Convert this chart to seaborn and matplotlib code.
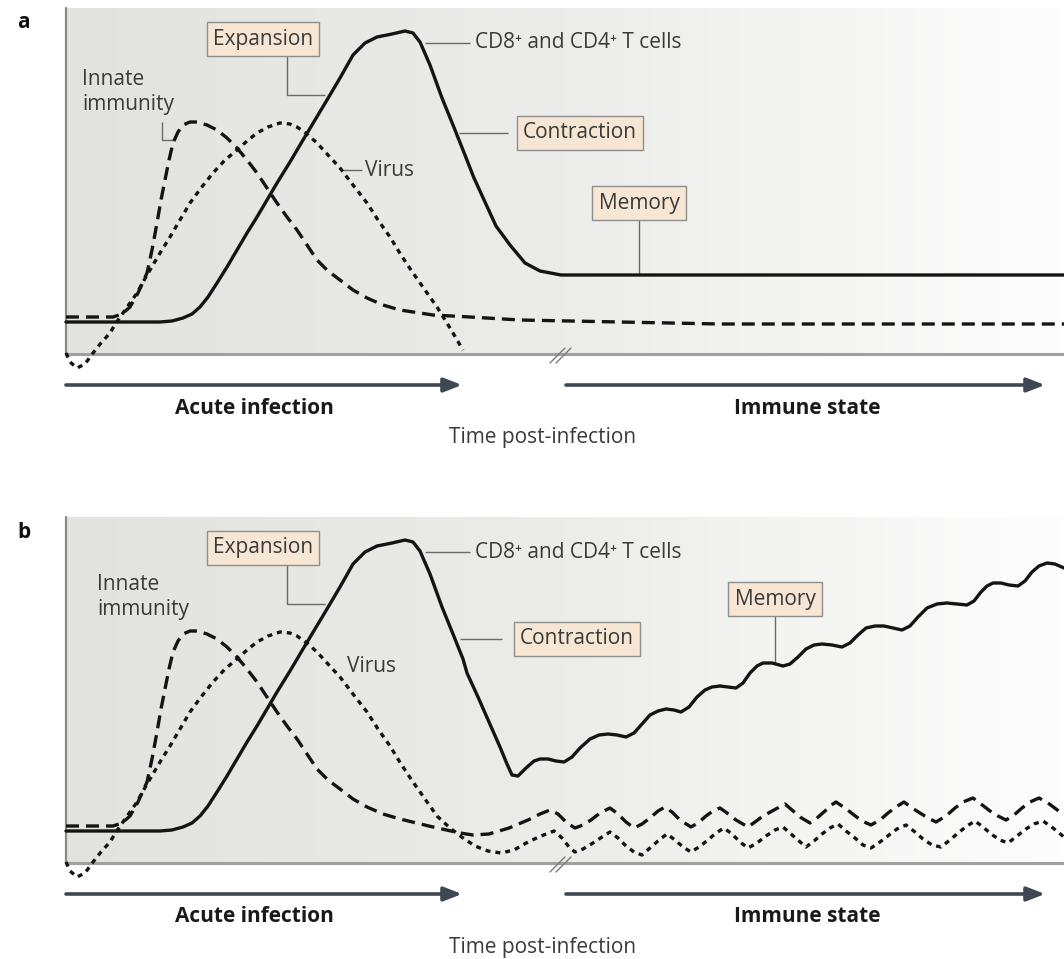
import numpy as np
import pandas as pd
import seaborn as sns
import matplotlib.pyplot as plt
from matplotlib.colors import LinearSegmentedColormap

# Schematic curves: time (arbitrary units) and response level
# Panel a: T cells contract to a flat memory level
tcell_a_time = [0, 94, 106, 117, 126, 134, 142, 151, 161, 171, 181, 191, 201, 211, 224, 237,
                249, 261, 274, 287, 299, 311, 326, 339, 347, 354, 364, 376, 387, 397, 408,
                419, 430, 444, 459, 474, 495, 998]
tcell_a_level = [32, 32, 33, 36, 40, 47, 57, 71, 87, 104, 121, 137, 154, 171, 192, 214,
                 234, 254, 276, 299, 311, 317, 320, 323, 321, 312, 289, 256, 229, 204, 176,
                 152, 128, 109, 91, 83, 79, 79]

innate_a_time = [0, 47, 56, 64, 72, 81, 86, 91, 95, 99, 103, 107, 112, 117, 124, 131, 141,
                 151, 161, 171, 181, 191, 201, 211, 221, 231, 241, 251, 262, 274, 287, 301,
                 317, 334, 367, 404, 454, 554, 654, 998]
innate_a_level = [37, 37, 40, 47, 61, 81, 104, 131, 154, 174, 194, 211, 222, 229, 232, 232,
                  229, 224, 216, 206, 194, 181, 166, 151, 137, 124, 109, 94, 83, 74, 64, 56,
                  49, 44, 39, 37, 34, 32, 30, 30]

virus_a_time = [0, 4, 11, 19, 27, 35, 44, 50, 57, 64, 71, 77, 84, 94, 104, 114, 124, 135,
                147, 159, 171, 181, 191, 202, 214, 224, 231, 241, 251, 262, 274, 287, 301,
                312, 324, 335, 347, 359, 371, 384, 397]
virus_a_level = [1, -8, -14, -10, 1, 11, 21, 31, 41, 51, 61, 72, 84, 101, 117, 134, 151, 166,
                 181, 194, 204, 213, 221, 227, 231, 230, 227, 220, 211, 199, 186, 169, 151,
                 134, 117, 99, 81, 64, 47, 26, 4]

# Panel b: persistent infection, memory keeps expanding with oscillations
tcell_b_time = tcell_a_time[:30] + [
    401, 412, 423, 434, 441, 446, 452, 460, 468, 474, 482, 490, 498, 506, 514, 524, 533,
    542, 551, 560, 568, 576, 584, 592, 600, 608, 615, 623, 631, 639, 646, 654, 662, 670,
    677, 684, 691, 697, 706, 717, 724, 732, 740, 748, 756, 766, 776, 784, 792, 800, 809,
    818, 827, 836, 844, 852, 861, 871, 881, 891, 901, 908, 915, 921, 927, 935, 943, 952,
    959, 966, 973, 981, 989, 998]
tcell_b_level = tcell_a_level[:30] + [
    190, 166, 141, 116, 99, 88, 87, 95, 102, 104, 104, 102, 101, 106, 115, 124, 128,
    129, 128, 126, 130, 139, 148, 152, 154, 153, 151, 156, 166, 173, 176, 177, 176, 175,
    180, 190, 197, 200, 200, 197, 199, 206, 214, 218, 219, 218, 216, 220, 228, 235, 237,
    237, 235, 233, 237, 246, 255, 259, 260, 259, 258, 262, 271, 277, 280, 280, 278, 277,
    282, 291, 297, 300, 299, 295]

innate_b_time = innate_a_time[:34] + [
    367, 394, 407, 423, 443, 462, 474, 484, 492, 501, 509, 517, 525, 534, 544, 552, 560,
    568, 576, 584, 592, 599, 606, 614, 625, 632, 640, 647, 654, 661, 670, 682, 689, 697,
    708, 719, 726, 734, 744, 751, 759, 764, 770, 779, 788, 796, 805, 814, 822, 830, 838,
    846, 854, 862, 870, 880, 889, 897, 907, 915, 924, 932, 940, 948, 956, 964, 973, 982,
    990, 998]
innate_b_level = innate_a_level[:34] + [
    36, 30, 28, 29, 35, 43, 49, 53, 49, 40, 35, 38, 43, 50, 55, 49, 41,
    35, 39, 45, 52, 56, 51, 43, 36, 40, 47, 52, 55, 50, 43, 36, 41, 47,
    53, 59, 53, 46, 40, 45, 52, 57, 61, 55, 48, 42, 38, 43, 50, 56, 61,
    55, 50, 45, 41, 47, 55, 61, 65, 59, 52, 47, 43, 48, 55, 61, 65, 60,
    54, 48]

virus_b_time = virus_a_time[:39] + [
    384, 397, 409, 422, 435, 448, 462, 475, 488, 496, 503, 509, 517, 527, 536, 544, 552,
    560, 568, 576, 584, 593, 601, 609, 617, 625, 633, 642, 650, 658, 666, 674, 682, 691,
    700, 709, 717, 725, 733, 740, 748, 756, 764, 772, 780, 789, 797, 805, 814, 823, 831,
    840, 849, 857, 866, 875, 884, 892, 901, 909, 917, 925, 934, 942, 951, 960, 968, 977,
    987, 998]
virus_b_level = virus_a_level[:39] + [
    35, 25, 17, 12, 10, 13, 21, 27, 32, 25, 16, 11, 14, 20, 26, 31, 25,
    17, 11, 8, 15, 23, 29, 23, 16, 11, 16, 23, 30, 35, 29, 21, 15, 20,
    27, 33, 36, 29, 22, 16, 22, 29, 35, 39, 32, 25, 18, 15, 21, 28, 34,
    38, 31, 24, 18, 16, 23, 30, 37, 42, 36, 29, 23, 20, 27, 34, 39, 42,
    35, 26]

phases = ["Acute infection", "Immune state"]
axis_title = "Time post-infection"

sns.set_theme(style="white")
plt.rcParams["font.family"] = ["Open Sans", "DejaVu Sans"]

TEXT = "#3a3a3a"
BOX = dict(boxstyle="square,pad=0.3", fc="#f6e6d3", ec="#8e8e8e", lw=1.0)
GUIDE = dict(color="#6a6a6a", lw=1.0, solid_capstyle="butt")

fig = plt.figure(figsize=(10.64, 9.59), dpi=100)
ax_a = fig.add_axes([66 / 1064, (959 - 354) / 959, 998 / 1064, 346 / 959])
ax_b = fig.add_axes([66 / 1064, (959 - 863) / 959, 998 / 1064, 346 / 959])

bg_cmap = LinearSegmentedColormap.from_list("bg", ["#e2e2de", "#ececea", "#fdfdfd"])


def draw_panel(ax, tcell, innate, virus):
    ax.imshow(np.linspace(0, 1, 256).reshape(1, -1), cmap=bg_cmap, aspect="auto",
              extent=[0, 998, 0, 346], zorder=0)
    ax.set_xlim(0, 998)
    ax.set_ylim(0, 346)
    ax.axis("off")
    # frame: left edge and baseline
    ax.plot([0, 0], [0, 346], color="#8a8a8a", lw=1.6, clip_on=False, zorder=1)
    ax.plot([0, 998], [0, 0], color="#a0a0a0", lw=2.2, clip_on=False, zorder=1)
    # axis break mark
    for dx in (0, 6):
        ax.plot([484 + dx, 499 + dx], [-9, 6], color="#7a7a7a", lw=1.0, clip_on=False, zorder=2)

    kw = dict(ax=ax, sort=False, estimator=None, color="#141414", clip_on=False, zorder=3)
    sns.lineplot(x=tcell[0], y=tcell[1], linewidth=2.4, **kw)
    sns.lineplot(x=innate[0], y=innate[1], linewidth=2.4, linestyle=(0, (3.9, 2.1)), **kw)
    sns.lineplot(x=virus[0], y=virus[1], linewidth=2.4, linestyle=(0, (1.5, 1.5)), **kw)

    # phase arrows and captions below
    arrow = dict(arrowstyle="-|>,head_length=0.9,head_width=0.35", color="#3e4852", lw=2.6,
                 shrinkA=0, shrinkB=0)
    ax.annotate("", xy=(396, -31), xytext=(0, -31), arrowprops=arrow, annotation_clip=False)
    ax.annotate("", xy=(979, -31), xytext=(500, -31), arrowprops=arrow, annotation_clip=False)
    ax.text(188, -54, phases[0], ha="center", va="center", fontsize=15, fontweight="bold",
            color="#1a1a1a")
    ax.text(741, -54, phases[1], ha="center", va="center", fontsize=15, fontweight="bold",
            color="#1a1a1a")
    ax.text(477, -84, axis_title, ha="center", va="center", fontsize=15, color=TEXT)

    # common labels
    ax.text(197, 315, "Expansion", ha="center", va="center", fontsize=15, color=TEXT, bbox=BOX,
            zorder=5)
    ax.plot([221, 221, 259], [299, 259, 259], zorder=2, **GUIDE)
    ax.plot([359, 404], [311, 311], zorder=2, **GUIDE)
    ax.text(409, 311, "CD8\u207a and CD4\u207a T cells", ha="left", va="center", fontsize=15,
            color=TEXT)


draw_panel(ax_a, (tcell_a_time, tcell_a_level), (innate_a_time, innate_a_level),
           (virus_a_time, virus_a_level))
draw_panel(ax_b, (tcell_b_time, tcell_b_level), (innate_b_time, innate_b_level),
           (virus_b_time, virus_b_level))

# panel a specific labels
ax_a.text(16, 262, "Innate\nimmunity", ha="left", va="center", fontsize=15, color=TEXT,
          linespacing=1.3)
ax_a.plot([96, 96, 109], [232, 214, 214], zorder=2, **GUIDE)
ax_a.text(299, 184, "Virus", ha="left", va="center", fontsize=15, color=TEXT)
ax_a.plot([277, 296], [184, 184], zorder=2, **GUIDE)
ax_a.text(514, 221, "Contraction", ha="center", va="center", fontsize=15, color=TEXT, bbox=BOX,
          zorder=5)
ax_a.plot([393, 442], [221, 221], zorder=2, **GUIDE)
ax_a.text(573, 151, "Memory", ha="center", va="center", fontsize=15, color=TEXT, bbox=BOX,
          zorder=5)
ax_a.plot([573, 573], [136, 79], zorder=2, **GUIDE)

# panel b specific labels
ax_b.text(31, 266, "Innate\nimmunity", ha="left", va="center", fontsize=15, color=TEXT,
          linespacing=1.3)
ax_b.text(281, 196, "Virus", ha="left", va="center", fontsize=15, color=TEXT)
ax_b.text(511, 224, "Contraction", ha="center", va="center", fontsize=15, color=TEXT, bbox=BOX,
          zorder=5)
ax_b.plot([394, 436], [224, 224], zorder=2, **GUIDE)
ax_b.text(709, 264, "Memory", ha="center", va="center", fontsize=15, color=TEXT, bbox=BOX,
          zorder=5)
ax_b.plot([709, 709], [248, 200], zorder=2, **GUIDE)

fig.text(17 / 1064, 1 - 22 / 959, "a", ha="left", va="center", fontsize=15, fontweight="bold",
         color="#111111")
fig.text(17 / 1064, 1 - 533 / 959, "b", ha="left", va="center", fontsize=15, fontweight="bold",
         color="#111111")

fig.savefig("out.png", dpi=100)
